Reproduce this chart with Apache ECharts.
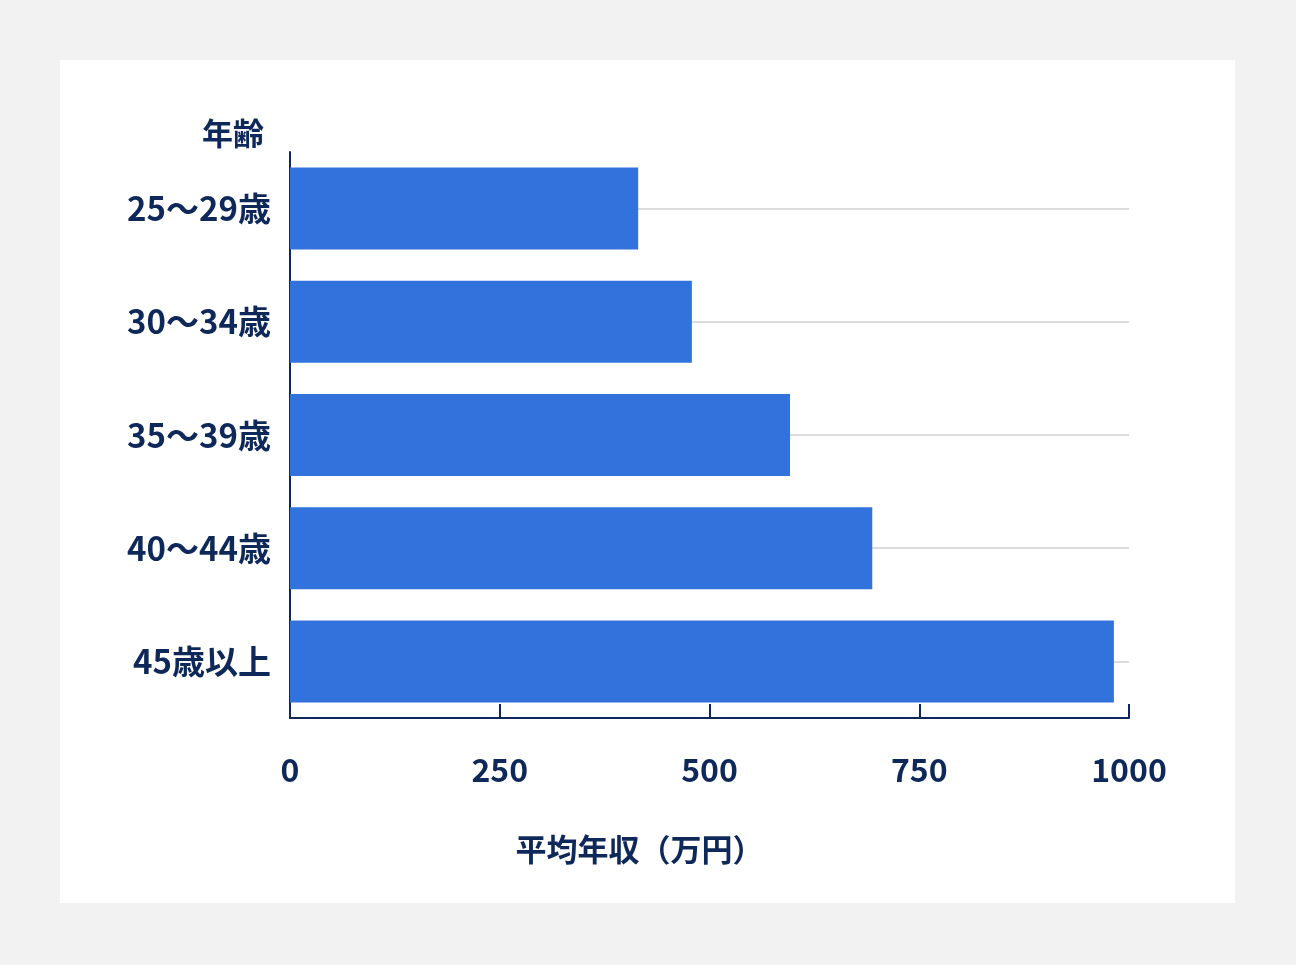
<!DOCTYPE html>
<html>
<head>
  <meta charset="utf-8" />
  <title>年齢別平均年収</title>
  <style>
    html, body { margin: 0; padding: 0; background: #f2f2f2; }
    #main { width: 1296px; height: 965px; }
  </style>
</head>
<body>
  <div id="main"></div>
  <script src="https://cdn.jsdelivr.net/npm/echarts@6/dist/echarts.min.js"></script>
  <script>
    var ages = ['25〜29歳', '30〜34歳', '35〜39歳', '40〜44歳', '45歳以上'];
    var income = [415, 479, 596, 694, 982];
    var xTicks = [0, 250, 500, 750, 1000];

    var navy = '#0d2859';
    var font = '"Noto Sans CJK JP", "Noto Sans", sans-serif';

    // 横線（各カテゴリ中央の薄いグレー線）
    var guideLines = ages.map(function (a) {
      return [{ coord: [xTicks[0], a] }, { coord: [xTicks[xTicks.length - 1], a] }];
    });

    var chart = echarts.init(document.getElementById('main'));
    chart.setOption({
      backgroundColor: '#f2f2f2',
      animation: false,
      graphic: [{
        type: 'rect',
        z: -10,
        shape: { x: 60, y: 60, width: 1175, height: 843 },
        style: { fill: '#ffffff' }
      }],
      grid: { left: 290, right: 167, top: 152, bottom: 247 },
      xAxis: {
        type: 'value',
        min: 0,
        max: 1000,
        interval: 250,
        name: '平均年収（万円）',
        nameLocation: 'middle',
        nameGap: 116,
        nameTextStyle: {
          color: navy, fontSize: 31, fontWeight: 'bold', fontFamily: font,
          padding: [0, 140, 0, 0]
        },
        axisLine: { show: true, lineStyle: { color: navy, width: 2 } },
        axisTick: { show: true, inside: true, length: 14, lineStyle: { color: navy, width: 2 } },
        axisLabel: {
          color: navy, fontSize: 32, fontWeight: 'bold', fontFamily: font, margin: 36,
          formatter: function (v) { return String(v); }
        },
        splitLine: { show: false }
      },
      yAxis: {
        type: 'category',
        data: ages,
        inverse: true,
        name: '年齢',
        nameLocation: 'start',
        nameGap: 3,
        nameTextStyle: {
          color: navy, fontSize: 31, fontWeight: 'bold', fontFamily: font,
          align: 'right', verticalAlign: 'bottom', padding: [0, 26, 0, 0]
        },
        axisLine: { show: true, lineStyle: { color: navy, width: 2 } },
        axisTick: { show: false },
        axisLabel: {
          color: navy, fontSize: 33, fontWeight: 'bold', fontFamily: font, margin: 19
        },
        splitLine: { show: false }
      },
      series: [
        {
          type: 'line',
          data: [],
          z: 1,
          silent: true,
          markLine: {
            silent: true,
            z: 1,
            symbol: 'none',
            label: { show: false },
            lineStyle: { color: '#dcdcdc', width: 2, type: 'solid' },
            data: guideLines
          }
        },
        {
          type: 'bar',
          data: income,
          z: 3,
          barWidth: 82,
          itemStyle: { color: '#3272dd' }
        }
      ]
    });
  </script>
</body>
</html>
